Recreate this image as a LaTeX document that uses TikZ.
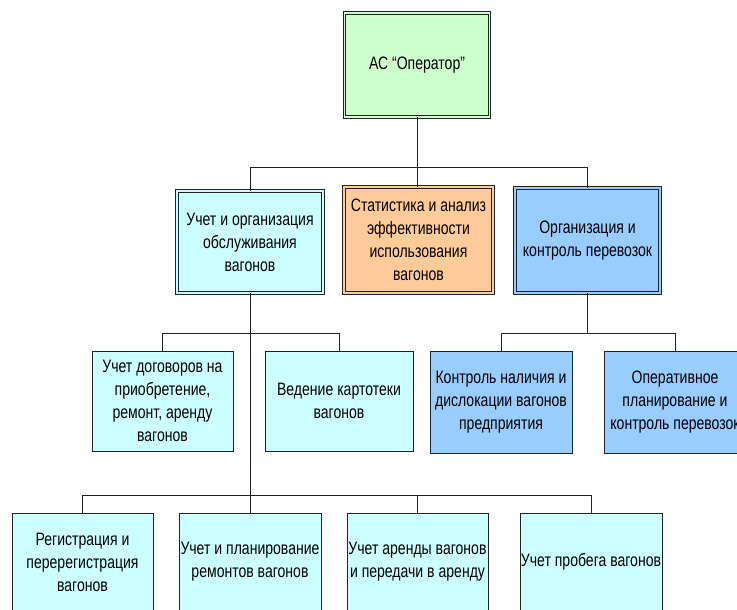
\documentclass[tikz,border=0pt]{standalone}
\usepackage{fontspec}
\setmainfont{Liberation Sans}[FakeStretch=0.78]
\definecolor{cgreen}{HTML}{CCFFCC}
\definecolor{ccyan}{HTML}{CCFFFF}
\definecolor{corange}{HTML}{FFCC99}
\definecolor{cblue}{HTML}{99CCFF}
\definecolor{cline}{HTML}{222222}
\begin{document}
\begin{tikzpicture}[x=1bp,y=-1bp,
  box/.style={draw=cline, line width=0.8bp, align=center, inner sep=0bp,
    font=\fontsize{18bp}{23bp}\selectfont, text=black},
  dbl/.style={fill=#1, double=#1, double distance=1.8bp, line width=0.7bp},
  conn/.style={draw=cline, line width=0.9bp}]
\useasboundingbox (0,0) rectangle (737,610);
% top
\node[box, dbl=cgreen, minimum width=145bp, minimum height=104bp] (top) at (417,65) {АС “Оператор”};
% level 2
\node[box, dbl=ccyan, minimum width=146bp, minimum height=102bp] (A) at (250,242) {Учет и организация\\обслуживания\\вагонов};
\node[box, dbl=corange, minimum width=149bp, minimum height=106bp] (B) at (418.5,240) {Статистика и анализ\\эффективности\\использования\\вагонов};
\node[box, dbl=cblue, minimum width=145bp, minimum height=105bp] (C) at (587.5,240.5) {Организация и\\контроль перевозок};
% level 3
\node[box, fill=ccyan, minimum width=141bp, minimum height=100bp] (D) at (162.5,401) {Учет договоров на\\приобретение,\\ремонт, аренду\\вагонов};
\node[box, fill=ccyan, minimum width=148bp, minimum height=100bp] (E) at (339,401) {Ведение картотеки\\вагонов};
\node[box, fill=cblue, minimum width=142bp, minimum height=102bp] (F) at (501,402) {Контроль наличия и\\дислокации вагонов\\предприятия};
\node[box, fill=cblue, minimum width=142bp, minimum height=102bp] (G) at (675,402) {Оперативное\\планирование и\\контроль перевозок};
% level 4
\node[box, fill=ccyan, minimum width=141bp, minimum height=98bp] (H) at (82.5,562) {Регистрация и\\перерегистрация\\вагонов};
\node[box, fill=ccyan, minimum width=142bp, minimum height=98bp] (I) at (250,562) {Учет и планирование\\ремонтов вагонов};
\node[box, fill=ccyan, minimum width=141bp, minimum height=98bp] (J) at (417.5,562) {Учет аренды вагонов\\и передачи в аренду};
\node[box, fill=ccyan, minimum width=142bp, minimum height=98bp] (K) at (591,562) {Учет пробега вагонов};
% buses
\coordinate (bus1) at (417,167);
\coordinate (bus2) at (250,333);
\coordinate (bus3) at (250,495);
\coordinate (bus4) at (588,333);
% connectors
\draw[conn] (top.south) -- (top.south |- bus1);
\draw[conn] (A.north) |- (C.north |- bus1) -- (C.north);
\draw[conn] (B.north -| bus1) -- (bus1);
\draw[conn] (A.south) -- (I.north);
\draw[conn] (D.north) |- (E.north |- bus2) -- (E.north);
\draw[conn] (H.north) |- (K.north |- bus3) -- (K.north);
\draw[conn] (J.north) -- (J.north |- bus3);
\draw[conn] (C.south) -- (C.south |- bus4);
\draw[conn] (F.north) |- (G.north |- bus4) -- (G.north);
\end{tikzpicture}
\end{document}
